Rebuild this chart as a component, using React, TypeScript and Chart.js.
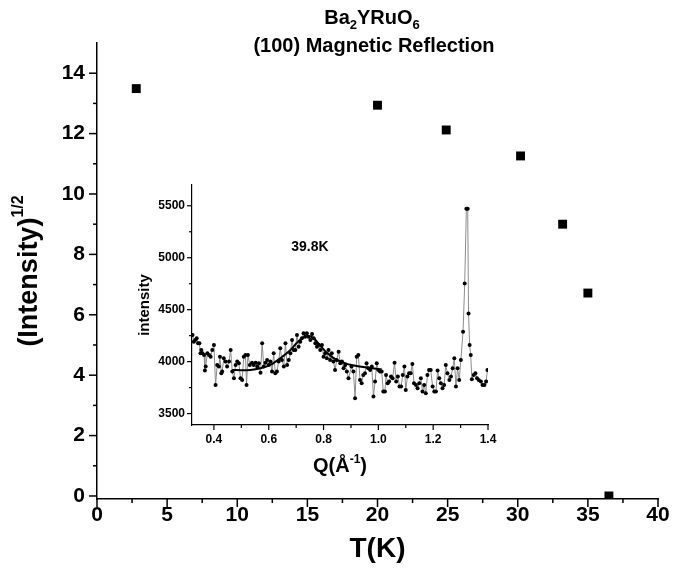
import React, { useEffect, useRef } from 'react';
import { Chart, registerables } from 'chart.js';
Chart.register(...registerables);

const FONT = '"Liberation Sans", Arial, Helvetica, sans-serif';

// ---- Main plot data ----
const mainT = [2.8, 20.0, 24.9, 30.2, 33.2, 35.0, 36.5];
const mainI = [13.49, 12.94, 12.12, 11.26, 9.0, 6.72, 0.0];
const mainXTicks = [0, 5, 10, 15, 20, 25, 30, 35, 40];
const mainXMinor = [2.5, 7.5, 12.5, 17.5, 22.5, 27.5, 32.5, 37.5];
const mainYTicks = [0, 2, 4, 6, 8, 10, 12, 14];
const mainYMinor = [1, 3, 5, 7, 9, 11, 13];

// ---- Inset data ----
const insetQ = [
  0.322, 0.327, 0.332, 0.337, 0.342, 0.347, 0.351, 0.354, 0.358, 0.364,
  0.367, 0.370, 0.376, 0.382, 0.388, 0.394, 0.400, 0.406, 0.412, 0.418,
  0.422, 0.427, 0.430, 0.436, 0.442, 0.448, 0.455, 0.461, 0.467, 0.473,
  0.479, 0.485, 0.491, 0.497, 0.503, 0.509, 0.515, 0.519, 0.524, 0.531,
  0.539, 0.545, 0.552, 0.558, 0.564, 0.570, 0.576, 0.582, 0.588, 0.594,
  0.600, 0.606, 0.612, 0.618, 0.624, 0.630, 0.636, 0.642, 0.648, 0.655,
  0.661, 0.667, 0.673, 0.679, 0.685, 0.691, 0.697, 0.703, 0.709, 0.715,
  0.721, 0.727, 0.733, 0.739, 0.745, 0.752, 0.758, 0.764, 0.770, 0.776,
  0.782, 0.788, 0.794, 0.800, 0.806, 0.812, 0.818, 0.824, 0.830, 0.836,
  0.842, 0.848, 0.855, 0.861, 0.867, 0.873, 0.879, 0.885, 0.891,
  0.902, 0.909, 0.915, 0.921, 0.927, 0.933, 0.939, 0.945, 0.951, 0.957,
  0.963, 0.970, 0.976, 0.982, 0.988, 0.994, 1.000, 1.006, 1.012, 1.018,
  1.024, 1.028, 1.034, 1.039, 1.046, 1.052, 1.059, 1.065, 1.071, 1.077,
  1.083, 1.089, 1.095, 1.100, 1.106, 1.112, 1.118, 1.124, 1.130, 1.137,
  1.143, 1.149, 1.155, 1.161, 1.167, 1.173, 1.179, 1.185, 1.191, 1.198,
  1.204, 1.210, 1.216, 1.222, 1.228, 1.234, 1.240, 1.246, 1.252, 1.259,
  1.265, 1.271, 1.277, 1.283, 1.289, 1.295, 1.301, 1.309, 1.315, 1.321,
  1.326, 1.329, 1.333, 1.337, 1.341, 1.348, 1.354, 1.360, 1.366, 1.374,
  1.380, 1.387, 1.393, 1.398,
];
const insetI = [
  4256, 4192, 4208, 4224, 4176, 4176, 4080, 4112, 4080, 4064,
  3914, 3952, 4080, 4064, 4048, 4112, 4160, 3776, 3968, 3952,
  4048, 3888, 3904, 4032, 4000, 3952, 4000, 4112, 3904, 3840,
  3968, 4000, 3984, 3840, 3824, 4048, 4064, 3776, 4064, 3968,
  3990, 3968, 3990, 3952, 3984, 3894, 4176, 3952, 3990, 4016,
  3968, 4000, 3904, 4080, 3888, 3904, 4000, 4128, 4016, 3952,
  4176, 3968, 4016, 4080, 4208, 4112, 4112, 4256, 4144, 4192,
  4224, 4272, 4240, 4272, 4240, 4208, 4266, 4224, 4176, 4144,
  4160, 4112, 4160, 4048, 4080, 4032, 4112, 4016, 4080, 4000,
  3920, 4016, 4096, 3984, 4000, 3936, 3968, 3904, 3840,
  3952, 3904, 3648, 4048, 4064, 3824, 3792, 3872, 3888, 3984,
  3936, 3920, 3952, 3664, 3808, 3984, 3920, 3904, 3904, 3712,
  3712, 3872, 3792, 3808, 3856, 3840, 3990, 3808, 3856, 3760,
  3760, 3872, 3952, 3728, 3856, 3888, 3888, 3978, 3792, 3776,
  3744, 3792, 3840, 3712, 3776, 3696, 3872, 3920, 3920, 3760,
  3712, 3712, 3914, 3840, 3792, 3744, 3776, 3968, 3888, 3824,
  3856, 3936, 4032, 3760, 3936, 3824, 4016, 4288, 4752, 5472,
  5472, 4464, 4160, 4064, 3830, 3872, 3888, 3840, 3824, 3808,
  3776, 3776, 3808, 3920,
];
const fitQ = [0.467, 0.5, 0.533, 0.57, 0.606, 0.642, 0.679, 0.703, 0.727, 0.745, 0.764, 0.788, 0.812, 0.848, 0.885, 0.902, 0.951, 1.012];
const fitI = [3920, 3918, 3920, 3936, 3968, 4032, 4112, 4182, 4234, 4246, 4224, 4154, 4086, 4016, 3978, 3968, 3946, 3926];
const insetXTicks = [0.4, 0.6, 0.8, 1.0, 1.2, 1.4];
const insetXMinor = [0.5, 0.7, 0.9, 1.1, 1.3];
const insetYTicks = [3500, 4000, 4500, 5000, 5500];
const insetYMinor = [3750, 4250, 4750, 5250];

type Part = { t: string; size: number; dy: number };

function drawRich(ctx: CanvasRenderingContext2D, parts: Part[], x: number, y: number) {
  let total = 0;
  const widths = parts.map((p) => {
    ctx.font = `bold ${p.size}px ${FONT}`;
    const w = ctx.measureText(p.t).width;
    total += w;
    return w;
  });
  let cx = x - total / 2;
  parts.forEach((p, i) => {
    ctx.font = `bold ${p.size}px ${FONT}`;
    ctx.fillText(p.t, cx, y + p.dy);
    cx += widths[i];
  });
}

const tickMarks = {
  id: 'tickMarks',
  afterDraw(chart: any, _a: any, opts: any) {
    const ctx: CanvasRenderingContext2D = chart.ctx;
    ctx.save();
    ctx.strokeStyle = '#000';
    ctx.lineWidth = opts.width;
    ['x', 'y'].forEach((id) => {
      const s = chart.scales[id];
      const cfg = opts[id];
      const draw = (v: number, len: number) => {
        const p = s.getPixelForValue(v);
        ctx.beginPath();
        if (id === 'x') {
          ctx.moveTo(p, s.top);
          ctx.lineTo(p, s.top + len);
        } else {
          ctx.moveTo(s.right, p);
          ctx.lineTo(s.right - len, p);
        }
        ctx.stroke();
      };
      cfg.major.forEach((v: number) => draw(v, opts.majorLen));
      cfg.minor.forEach((v: number) => draw(v, opts.minorLen));
    });
    ctx.restore();
  },
};

const mainText = {
  id: 'mainText',
  afterDraw(chart: any) {
    const ctx: CanvasRenderingContext2D = chart.ctx;
    const a = chart.chartArea;
    ctx.save();
    ctx.fillStyle = '#000';
    ctx.textAlign = 'left';
    ctx.textBaseline = 'alphabetic';
    drawRich(ctx, [
      { t: 'Ba', size: 20, dy: 0 },
      { t: '2', size: 13, dy: 5 },
      { t: 'YRuO', size: 20, dy: 0 },
      { t: '6', size: 13, dy: 5 },
    ], 372, 24);
    drawRich(ctx, [{ t: '(100) Magnetic Reflection', size: 20, dy: 0 }], 374, 52);
    // x title
    ctx.textBaseline = 'middle';
    drawRich(ctx, [{ t: 'T(K)', size: 28, dy: 0 }], (a.left + a.right) / 2, 549);
    // y title
    ctx.translate(30, (a.top + a.bottom) / 2);
    ctx.rotate(-Math.PI / 2);
    drawRich(ctx, [
      { t: '(Intensity)', size: 27, dy: 0 },
      { t: '1/2', size: 16, dy: -11 },
    ], 0, 0);
    ctx.restore();
  },
};

const insetText = {
  id: 'insetText',
  afterDraw(chart: any) {
    const ctx: CanvasRenderingContext2D = chart.ctx;
    const a = chart.chartArea;
    const xs = chart.scales.x;
    const ys = chart.scales.y;
    ctx.save();
    ctx.fillStyle = '#000';
    ctx.textAlign = 'left';
    ctx.textBaseline = 'middle';
    drawRich(ctx, [{ t: '39.8K', size: 14, dy: 0 }], xs.getPixelForValue(0.75), ys.getPixelForValue(5100));
    ctx.textBaseline = 'alphabetic';
    drawRich(ctx, [
      { t: 'Q(\u00C5', size: 20, dy: 0 },
      { t: '-1', size: 12, dy: -9 },
      { t: ')', size: 20, dy: 0 },
    ], (a.left + a.right) / 2, 302);
    ctx.textBaseline = 'middle';
    ctx.translate(15, (a.top + a.bottom) / 2);
    ctx.rotate(-Math.PI / 2);
    drawRich(ctx, [{ t: 'intensity', size: 15, dy: 0 }], 0, 0);
    ctx.restore();
  },
};

export default function App() {
  const mainRef = useRef<HTMLCanvasElement>(null);
  const insetRef = useRef<HTMLCanvasElement>(null);

  useEffect(() => {
    const tickFont = { family: FONT, size: 21, weight: 'bold' as const };
    const main = new Chart(mainRef.current!, {
      type: 'scatter',
      data: {
        datasets: [
          {
            data: mainT.map((t, i) => ({ x: t, y: mainI[i] })),
            pointStyle: 'rect',
            pointRadius: 6.3,
            pointBackgroundColor: '#000',
            pointBorderColor: '#000',
            pointBorderWidth: 0,
          },
        ],
      },
      options: {
        animation: false,
        responsive: false,
        devicePixelRatio: 1,
        layout: { padding: { left: 0, right: 26, top: 43, bottom: 0 } },
        plugins: {
          legend: { display: false },
          tooltip: { enabled: false },
          tickMarks: { width: 1.5, majorLen: 8, minorLen: 4, x: { major: mainXTicks, minor: mainXMinor }, y: { major: mainYTicks, minor: mainYMinor } },
        } as any,
        scales: {
          x: {
            type: 'linear',
            min: 0,
            max: 40,
            grid: { display: false, drawTicks: false, tickLength: 0 },
            border: { display: true, color: '#000', width: 1.5 },
            ticks: { color: '#000', font: tickFont, padding: 4, maxRotation: 0, autoSkip: false },
            afterBuildTicks: (s: any) => { s.ticks = mainXTicks.map((v) => ({ value: v })); },
            afterFit: (s: any) => { s.height = 81; },
          },
          y: {
            type: 'linear',
            min: -0.1,
            max: 15,
            grid: { display: false, drawTicks: false, tickLength: 0 },
            border: { display: true, color: '#000', width: 1.5 },
            ticks: { color: '#000', font: tickFont, padding: 12, autoSkip: false },
            afterBuildTicks: (s: any) => { s.ticks = mainYTicks.map((v) => ({ value: v })); },
            afterFit: (s: any) => { s.width = 97; },
          },
        },
      },
      plugins: [tickMarks, mainText],
    });

    const insetFont = { family: FONT, size: 12, weight: 'bold' as const };
    const inset = new Chart(insetRef.current!, {
      type: 'scatter',
      data: {
        datasets: [
          {
            data: fitQ.map((q, i) => ({ x: q, y: fitI[i] })),
            showLine: true,
            borderColor: '#000',
            borderWidth: 2,
            pointRadius: 0,
            cubicInterpolationMode: 'monotone',
            order: 0,
          },
          {
            data: insetQ.map((q, i) => ({ x: q, y: insetI[i] })),
            showLine: true,
            borderColor: '#8c8c8c',
            borderWidth: 1,
            pointRadius: 2,
            pointBackgroundColor: '#000',
            pointBorderColor: '#000',
            pointBorderWidth: 0,
            order: 1,
          },
        ],
      },
      options: {
        animation: false,
        responsive: false,
        devicePixelRatio: 1,
        layout: { padding: { left: 0, right: 22, top: 15, bottom: 0 } },
        plugins: {
          legend: { display: false },
          tooltip: { enabled: false },
          tickMarks: { width: 1.2, majorLen: 5, minorLen: 3, x: { major: insetXTicks, minor: insetXMinor }, y: { major: insetYTicks, minor: insetYMinor } },
        } as any,
        scales: {
          x: {
            type: 'linear',
            min: 0.32,
            max: 1.4,
            grid: { display: false, drawTicks: false, tickLength: 0 },
            border: { display: true, color: '#000', width: 1.2 },
            ticks: { color: '#000', font: insetFont, padding: 7, maxRotation: 0, autoSkip: false, callback: (v: any) => Number(v).toFixed(1) },
            afterBuildTicks: (s: any) => { s.ticks = insetXTicks.map((v) => ({ value: v })); },
            afterFit: (s: any) => { s.height = 65; },
          },
          y: {
            type: 'linear',
            min: 3390,
            max: 5700,
            grid: { display: false, drawTicks: false, tickLength: 0 },
            border: { display: true, color: '#000', width: 1.2 },
            ticks: { color: '#000', font: insetFont, padding: 7, autoSkip: false, callback: (v: any) => String(v) },
            afterBuildTicks: (s: any) => { s.ticks = insetYTicks.map((v) => ({ value: v })); },
            afterFit: (s: any) => { s.width = 62; },
          },
        },
      },
      plugins: [tickMarks, insetText],
    });

    return () => {
      main.destroy();
      inset.destroy();
    };
  }, []);

  return (
    <div style={{ position: 'fixed', left: 0, top: 0, width: 684, height: 580, background: '#fff' }}>
      <canvas ref={mainRef} width={684} height={580} style={{ position: 'absolute', left: 0, top: 0, width: 684, height: 580 }} />
      <canvas ref={insetRef} width={380} height={320} style={{ position: 'absolute', left: 130, top: 170, width: 380, height: 320 }} />
    </div>
  );
}
